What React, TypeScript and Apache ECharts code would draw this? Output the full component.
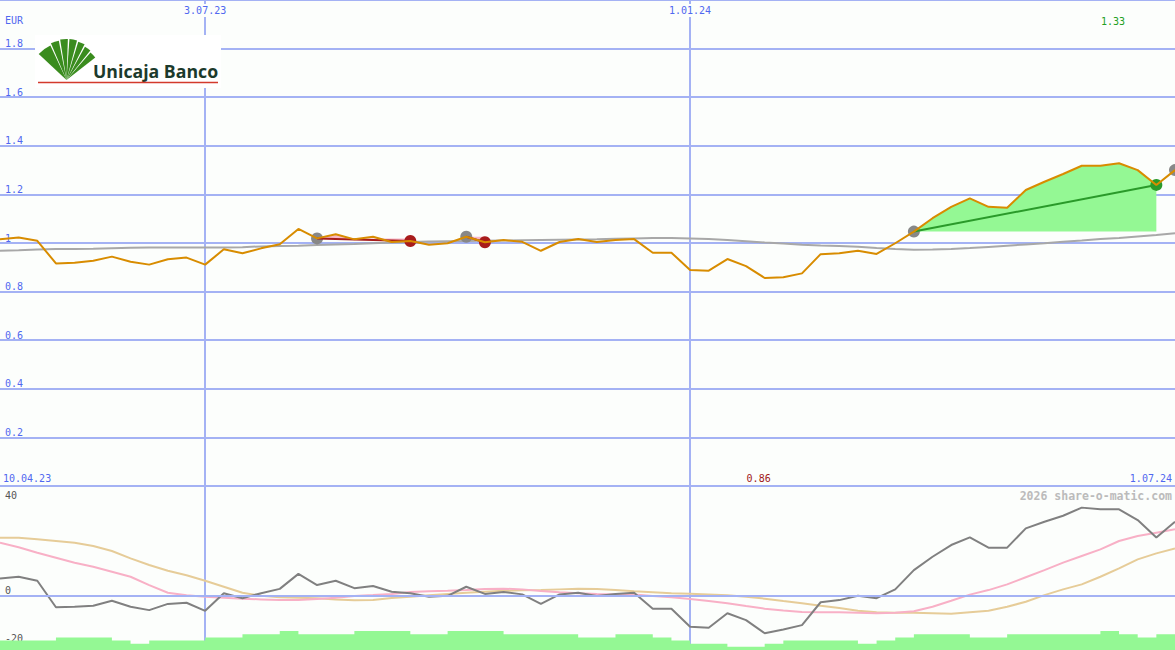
import { useEffect, useRef } from 'react';
import * as echarts from 'echarts';

// ---------- data ----------
const dates = [
  '17.04.23', '24.04.23', '1.05.23', '8.05.23', '15.05.23', '22.05.23', '29.05.23', '5.06.23', '12.06.23', '19.06.23',
  '26.06.23', '3.07.23', '10.07.23', '17.07.23', '24.07.23', '31.07.23', '7.08.23', '14.08.23', '21.08.23', '28.08.23',
  '4.09.23', '11.09.23', '18.09.23', '25.09.23', '2.10.23', '9.10.23', '16.10.23', '23.10.23', '30.10.23', '6.11.23',
  '13.11.23', '20.11.23', '27.11.23', '4.12.23', '11.12.23', '18.12.23', '25.12.23', '1.01.24', '8.01.24', '15.01.24',
  '22.01.24', '29.01.24', '5.02.24', '12.02.24', '19.02.24', '26.02.24', '4.03.24', '11.03.24', '18.03.24', '25.03.24',
  '1.04.24', '8.04.24', '15.04.24', '22.04.24', '29.04.24', '6.05.24', '13.05.24', '20.05.24', '27.05.24', '3.06.24',
  '10.06.24', '17.06.24', '24.06.24', '1.07.24',
];
const markedDates = ['3.07.23', '1.01.24'];
const rangeStartLabel = '10.04.23';
const currencyLabel = 'EUR';
const watermarkLabel = '2026 share-o-matic.com';
const brandLabel = 'Unicaja Banco';

const price = [
  1.015, 1.023, 1.009, 0.916, 0.919, 0.927, 0.944, 0.923, 0.911, 0.933,
  0.940, 0.911, 0.974, 0.958, 0.978, 0.995, 1.058, 1.019, 1.036, 1.015,
  1.026, 1.004, 1.008, 0.993, 0.999, 1.026, 1.003, 1.012, 1.005, 0.968,
  1.004, 1.016, 1.004, 1.012, 1.016, 0.960, 0.960, 0.889, 0.886, 0.934,
  0.905, 0.856, 0.859, 0.875, 0.954, 0.958, 0.968, 0.955, 0.999, 1.047,
  1.102, 1.149, 1.184, 1.149, 1.145, 1.218, 1.252, 1.284, 1.318, 1.318,
  1.328, 1.300, 1.239, 1.300,
];
const priceAverage = [
  0.968, 0.970, 0.973, 0.975, 0.975, 0.976, 0.978, 0.980, 0.981, 0.981,
  0.981, 0.981, 0.981, 0.983, 0.986, 0.988, 0.989, 0.992, 0.994, 0.996,
  0.999, 1.002, 1.004, 1.006, 1.007, 1.008, 1.009, 1.010, 1.011, 1.012,
  1.013, 1.014, 1.015, 1.017, 1.019, 1.021, 1.021, 1.019, 1.016, 1.012,
  1.007, 1.002, 0.998, 0.993, 0.990, 0.988, 0.985, 0.979, 0.975, 0.972,
  0.973, 0.975, 0.979, 0.984, 0.989, 0.994, 0.999, 1.005, 1.010, 1.016,
  1.021, 1.027, 1.033, 1.040,
];
const momentum = [
  7.1, 7.8, 6.1, -5.0, -4.8, -4.4, -2.3, -4.8, -6.2, -3.6,
  -3.1, -6.5, 0.9, -1.2, 0.9, 2.7, 9.0, 4.3, 6.1, 3.0,
  3.9, 1.5, 0.9, -0.6, -0.2, 3.6, 0.6, 1.4, 0.4, -3.6,
  0.4, 1.1, -0.3, 0.6, 1.1, -5.6, -5.6, -13.2, -13.6, -7.5,
  -10.4, -15.9, -14.3, -12.5, -2.9, -2.0, -0.2, -1.2, 2.5, 10.6,
  16.2, 21.1, 24.3, 20.0, 20.0, 28.1, 30.9, 33.4, 36.8, 36.1,
  36.1, 31.6, 24.3, 30.9,
];
const momentumFast = [
  22.1, 20.2, 17.9, 15.8, 13.7, 12.0, 9.9, 7.8, 4.3, 1.1,
  0.0, -0.6, -1.0, -1.4, -1.7, -2.0, -2.0, -1.5, -1.0, -0.3,
  0.1, 0.6, 1.4, 1.7, 1.9, 2.2, 2.7, 2.8, 2.5, 1.8,
  1.3, 0.9, 0.6, 0.4, 0.3, -0.3, -0.8, -1.5, -2.4, -3.3,
  -4.5, -5.6, -6.4, -7.0, -7.1, -7.1, -7.3, -7.5, -7.3, -6.7,
  -4.8, -2.3, 0.3, 2.2, 4.6, 7.6, 10.6, 13.7, 16.5, 19.3,
  22.8, 24.9, 26.3, 27.7,
];
const momentumSlow = [
  24.2, 24.2, 23.5, 22.8, 22.1, 20.7, 18.6, 15.5, 12.7, 10.3,
  8.4, 6.1, 3.6, 1.1, -0.2, -0.8, -1.0, -1.2, -1.7, -2.1,
  -2.0, -1.1, -0.6, 0.0, 0.6, 1.1, 1.5, 1.9, 2.1, 2.2,
  2.5, 2.8, 2.7, 2.2, 1.7, 1.3, 0.9, 0.7, 0.4, 0.0,
  -0.6, -1.4, -2.4, -3.3, -4.4, -5.3, -6.5, -7.1, -7.3, -7.3,
  -7.5, -7.7, -7.1, -6.5, -4.8, -2.7, 0.1, 2.5, 4.6, 7.8,
  11.3, 15.1, 17.6, 19.7,
];
const volume = [
  3, 3, 3, 4, 4, 4, 3, 2, 3, 3,
  3, 4, 4, 5, 5, 6, 5, 5, 5, 6,
  6, 6, 5, 5, 6, 6, 6, 5, 5, 5,
  5, 4, 4, 5, 5, 4, 3, 2, 2, 1,
  1, 2, 3, 3, 3, 3, 2, 3, 4, 5,
  5, 5, 4, 4, 5, 5, 5, 5, 5, 6,
  5, 4, 5, 5,
];
// trend signals: [start index, end index]
const fallingSignals = [[17, 22], [25, 26]];
const risingSignals = [[49, 62]];
const openSignals = [63];

// ---------- styles ----------
const BG = '#fcfefc';
const GRID_BLUE = '#a4b2f4';
const SEP_BLUE = '#6f80f0';
const LABEL_BLUE = '#5068f0';
const MONO = '"DejaVu Sans Mono", monospace';
const ORANGE = '#d88c00';
const PINK_FILL = '#f8b8c8';
const GREEN_FILL = '#94f894';
const RED = '#a81c1c';
const GREEN = '#2a9a2a';
const DOT_GRAY = '#888888';

const markedIdx = markedDates.map((d) => dates.indexOf(d));
const isMarked = (i: number) => markedIdx.includes(i);

function pairFor(pairs: number[][], i: number) {
  return pairs.find(([a, b]) => i >= a && i <= b);
}
function fillBase(pairs: number[][]) {
  return dates.map((_, i) => {
    const p = pairFor(pairs, i);
    return p ? price[p[0]] : null;
  });
}
function fillDiff(pairs: number[][]) {
  return dates.map((_, i) => {
    const p = pairFor(pairs, i);
    return p ? +(price[i] - price[p[0]]).toFixed(4) : null;
  });
}
function trendLine(a: number, b: number) {
  return dates.map((_, i) => (i === a || i === b ? price[i] : null));
}

function fanSectors() {
  // wedge boundaries in degrees (screen angles), widest on the left
  const bounds = [-137, -114, -100, -87, -74, -62, -50, -38];
  const radii = [38, 40, 41, 41, 40, 38, 36.5];
  const gap = 2.2;
  const out: any[] = [];
  for (let k = 0; k < bounds.length - 1; k++) {
    const s = bounds[k] + (k === 0 ? 0 : gap / 2);
    const e = bounds[k + 1] - (k === bounds.length - 2 ? 0 : gap / 2);
    out.push({
      type: 'sector',
      shape: { cx: 66.5, cy: 80, r0: 0, r: radii[k], startAngle: (s * Math.PI) / 180, endAngle: (e * Math.PI) / 180 },
      style: { fill: '#3a8c1e' },
    });
  }
  return out;
}

export default function App() {
  const ref = useRef<HTMLDivElement>(null);
  useEffect(() => {
    if (!ref.current) return;
    const chart = echarts.init(ref.current, null, { renderer: 'svg' });

    const lineBase = { type: 'line', showSymbol: false, symbol: 'none', silent: true };

    const trendSeries: any[] = [];
    fallingSignals.forEach(([a, b]) =>
      trendSeries.push({ ...lineBase, xAxisIndex: 0, yAxisIndex: 0, data: trendLine(a, b), connectNulls: true, lineStyle: { color: RED, width: 2 }, z: 6 })
    );
    risingSignals.forEach(([a, b]) =>
      trendSeries.push({ ...lineBase, xAxisIndex: 0, yAxisIndex: 0, data: trendLine(a, b), connectNulls: true, lineStyle: { color: GREEN, width: 2 }, z: 6 })
    );

    const startDots = [...fallingSignals.map((p) => p[0]), ...risingSignals.map((p) => p[0]), ...openSignals];
    const dot = (idx: number[], color: string) => ({
      type: 'scatter',
      xAxisIndex: 0,
      yAxisIndex: 0,
      symbolSize: 12,
      data: idx.map((i) => [i, price[i]]),
      itemStyle: { color, opacity: 1 },
      silent: true,
      z: 5,
    });

    chart.setOption({
      animation: false,
      backgroundColor: BG,
      grid: [
        { left: 0, right: 0, top: 0, height: 486 },
        { left: 0, right: 0, top: 500, height: 143 },
        { left: 0, right: 0, top: 486, height: 164 },
      ],
      xAxis: [
        {
          gridIndex: 0,
          type: 'category',
          data: dates,
          boundaryGap: false,
          position: 'top',
          axisLine: { show: false },
          axisTick: { show: false },
          axisLabel: {
            inside: true,
            interval: (i: number) => isMarked(i),
            color: LABEL_BLUE,
            fontSize: 10,
            fontFamily: MONO,
            margin: 4,
            backgroundColor: BG,
            padding: [1, 2, 2, 2],
          },
          splitLine: { show: true, interval: (i: number) => isMarked(i), lineStyle: { color: GRID_BLUE, width: 2 } },
        },
        { gridIndex: 1, type: 'category', data: dates, boundaryGap: false, show: false },
        {
          gridIndex: 2,
          type: 'category',
          data: dates,
          boundaryGap: false,
          position: 'top',
          axisLine: { show: true, lineStyle: { color: SEP_BLUE, width: 2 } },
          axisTick: { show: false },
          axisLabel: { show: false },
          splitLine: { show: true, interval: (i: number) => isMarked(i), lineStyle: { color: GRID_BLUE, width: 2 } },
        },
      ],
      yAxis: [
        {
          gridIndex: 0,
          type: 'value',
          min: 0,
          max: 2,
          interval: 0.2,
          axisLine: { show: false },
          axisTick: { show: false },
          axisLabel: {
            inside: true,
            verticalAlign: 'bottom',
            margin: 5,
            color: LABEL_BLUE,
            fontSize: 10,
            fontFamily: MONO,
            formatter: (v: number) => (v <= 0 || v >= 2 ? '' : String(+v.toFixed(1))),
          },
          splitLine: { show: true, lineStyle: { color: GRID_BLUE, width: 2 } },
        },
        {
          gridIndex: 1,
          type: 'value',
          min: -20,
          max: 40,
          interval: 20,
          axisLine: { show: false },
          axisTick: { show: false },
          splitLine: { show: false },
          axisLabel: {
            inside: true,
            verticalAlign: 'bottom',
            margin: 5,
            color: '#555555',
            fontSize: 10,
            fontFamily: MONO,
            formatter: (v: number) => (v === 20 ? '' : String(v)),
          },
        },
        { gridIndex: 2, type: 'value', min: 0, max: 52, show: false },
      ],
      series: [
        // volume
        {
          ...lineBase,
          xAxisIndex: 2,
          yAxisIndex: 2,
          data: volume,
          step: 'end',
          lineStyle: { width: 0 },
          areaStyle: { color: GREEN_FILL, opacity: 1 },
          z: 3,
        },
        // zero line of indicator panel
        {
          ...lineBase,
          xAxisIndex: 1,
          yAxisIndex: 1,
          data: [],
          z: 1,
          markLine: {
            silent: true,
            symbol: 'none',
            label: { show: false },
            lineStyle: { color: GRID_BLUE, width: 2, type: 'solid' },
            data: [{ yAxis: 0 }],
          },
        },
        { ...lineBase, xAxisIndex: 1, yAxisIndex: 1, data: momentumSlow, lineStyle: { color: '#e6cc98', width: 2 }, z: 2 },
        { ...lineBase, xAxisIndex: 1, yAxisIndex: 1, data: momentumFast, lineStyle: { color: '#f8b0c6', width: 2 }, z: 3 },
        { ...lineBase, xAxisIndex: 1, yAxisIndex: 1, data: momentum, lineStyle: { color: '#808080', width: 2 }, z: 4 },
        // price panel
        { ...lineBase, xAxisIndex: 0, yAxisIndex: 0, data: priceAverage, lineStyle: { color: '#a8a8a8', width: 2 }, z: 2 },
        { ...lineBase, xAxisIndex: 0, yAxisIndex: 0, data: fillBase(fallingSignals), stack: 'fall', stackStrategy: 'all', lineStyle: { width: 0, opacity: 0 }, z: 3 },
        { ...lineBase, xAxisIndex: 0, yAxisIndex: 0, data: fillDiff(fallingSignals), stack: 'fall', stackStrategy: 'all', lineStyle: { width: 0, opacity: 0 }, areaStyle: { color: PINK_FILL, opacity: 1 }, z: 3 },
        { ...lineBase, xAxisIndex: 0, yAxisIndex: 0, data: fillBase(risingSignals), stack: 'rise', stackStrategy: 'all', lineStyle: { width: 0, opacity: 0 }, z: 3 },
        { ...lineBase, xAxisIndex: 0, yAxisIndex: 0, data: fillDiff(risingSignals), stack: 'rise', stackStrategy: 'all', lineStyle: { width: 0, opacity: 0 }, areaStyle: { color: GREEN_FILL, opacity: 1 }, z: 3 },
        dot(startDots, DOT_GRAY),
        dot(fallingSignals.map((p) => p[1]), RED),
        dot(risingSignals.map((p) => p[1]), GREEN),
        ...trendSeries,
        { ...lineBase, xAxisIndex: 0, yAxisIndex: 0, data: price, lineStyle: { color: ORANGE, width: 2 }, z: 7 },
      ],
    });

    // high / low annotations positioned from the data
    const hi = Math.max(...price);
    const lo = Math.min(...price);
    const hiIdx = price.indexOf(hi);
    const loIdx = price.indexOf(lo);
    const hiPx = chart.convertToPixel({ gridIndex: 0 }, [hiIdx, hi]) as number[];
    const loPx = chart.convertToPixel({ gridIndex: 0 }, [loIdx, lo]) as number[];

    const txt = (x: number, y: number, text: string, fill: string, align = 'left', extra: any = {}) => ({
      type: 'text',
      x,
      y,
      silent: true,
      style: { text, fill, font: `10px ${MONO}`, textAlign: align, textVerticalAlign: 'middle', ...extra },
      z: 50,
    });

    chart.setOption({
      graphic: [
        txt(5, 20, currencyLabel, LABEL_BLUE),
        txt(3, 478, rangeStartLabel, LABEL_BLUE),
        txt(1172, 478, dates[dates.length - 1], LABEL_BLUE, 'right'),
        txt(hiPx[0] + 6, 21, hi.toFixed(2), '#22a022', 'right'),
        txt(loPx[0] + 6, 478, lo.toFixed(2), '#a01818', 'right'),
        txt(1172, 496, watermarkLabel, '#bbbbbb', 'right', { font: `bold 11.5px ${MONO}` }),
        {
          type: 'group',
          z: 60,
          silent: true,
          children: [
            { type: 'rect', shape: { x: 35, y: 35, width: 186, height: 53 }, style: { fill: '#ffffff' } },
            ...fanSectors(),
            {
              type: 'text',
              x: 93,
              y: 80,
              style: { text: brandLabel, fill: '#1c3a2c', font: 'bold 17.7px "Open Sans", sans-serif', textVerticalAlign: 'bottom' },
            },
            { type: 'line', shape: { x1: 38, y1: 82.5, x2: 218, y2: 82.5 }, style: { stroke: '#d33a2c', lineWidth: 1.5 } },
          ],
        },
      ],
    });

    return () => chart.dispose();
  }, []);

  return <div ref={ref} style={{ position: 'absolute', left: 0, top: 0, width: 1175, height: 650 }} />;
}
